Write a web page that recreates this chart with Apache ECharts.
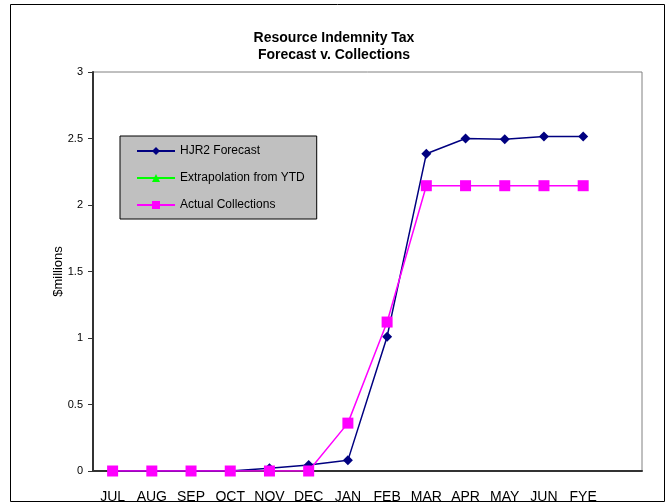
<!DOCTYPE html>
<html>
<head>
<meta charset="utf-8">
<script src="https://cdn.jsdelivr.net/npm/echarts@6/dist/echarts.min.js"></script>
<style>
  html, body { margin: 0; padding: 0; background: #fff; }
  #chart { width: 668px; height: 504px; }
</style>
</head>
<body>
<div id="chart"></div>
<script>
// fiscal-year months, last slot is an empty category
const months = ['JUL', 'AUG', 'SEP', 'OCT', 'NOV', 'DEC', 'JAN', 'FEB', 'MAR', 'APR', 'MAY', 'JUN', 'FYE', ''];
const forecast = [0, 0, 0, 0, 0.02, 0.045, 0.08, 1.01, 2.385, 2.5, 2.495, 2.515, 2.515];
const extrapolation = [];
const actual = [0, 0, 0, 0, 0, 0, 0.36, 1.12, 2.145, 2.145, 2.145, 2.145, 2.145];
const yTicks = { min: 0, max: 3, step: 0.5 };

const chart = echarts.init(document.getElementById('chart'), null, { renderer: 'canvas' });
const font = 'Liberation Sans, Arial, sans-serif';

chart.setOption({
  backgroundColor: '#fff',
  animation: false,
  title: {
    text: 'Resource Indemnity Tax\nForecast v. Collections',
    left: 'center',
    top: 25,
    textStyle: { fontFamily: font, fontSize: 14, fontWeight: 'bold', color: '#000', lineHeight: 17 },
  },
  legend: {
    orient: 'vertical',
    left: 120,
    top: 136,
    backgroundColor: '#c0c0c0',
    borderColor: '#000',
    borderWidth: 1,
    borderRadius: 0,
    padding: [9, 12, 8, 16],
    itemWidth: 38,
    itemHeight: 10,
    itemGap: 15,
    textStyle: { fontFamily: font, fontSize: 12, color: '#000' },
    data: ['HJR2 Forecast', 'Extrapolation from YTD', 'Actual Collections'],
  },
  grid: {
    left: 93, top: 72, right: 26, bottom: 32,
    show: true, borderColor: '#808080', borderWidth: 1,
  },
  xAxis: {
    type: 'category',
    data: months,
    boundaryGap: true,
    axisLine: { lineStyle: { color: '#333', width: 2 } },
    axisTick: { length: 5, lineStyle: { color: '#333' } },
    axisLabel: { fontFamily: font, fontSize: 14, color: '#000', margin: 19, interval: 0 },
    splitLine: { show: false },
  },
  yAxis: {
    type: 'value',
    min: yTicks.min,
    max: yTicks.max,
    interval: yTicks.step,
    name: '$millions',
    nameLocation: 'middle',
    nameGap: 28,
    nameMoveOverlap: false,
    nameTextStyle: { fontFamily: font, fontSize: 13, color: '#000' },
    axisLine: { show: true, lineStyle: { color: '#333', width: 2 } },
    axisTick: { show: true, length: 5, lineStyle: { color: '#333' } },
    axisLabel: { fontFamily: font, fontSize: 11, color: '#000', margin: 10 },
    splitLine: { show: false },
  },
  series: [
    {
      name: 'HJR2 Forecast',
      type: 'line',
      data: forecast,
      symbol: 'diamond',
      symbolSize: 10,
      lineStyle: { color: '#000080', width: 1.5 },
      itemStyle: { color: '#000080' },
      z: 3,
    },
    {
      name: 'Extrapolation from YTD',
      type: 'line',
      data: extrapolation,
      symbol: 'triangle',
      symbolSize: 9,
      lineStyle: { color: '#00ff00', width: 1.5 },
      itemStyle: { color: '#00ff00' },
    },
    {
      name: 'Actual Collections',
      type: 'line',
      data: actual,
      symbol: 'rect',
      symbolSize: 11,
      lineStyle: { color: '#ff00ff', width: 1.5 },
      itemStyle: { color: '#ff00ff' },
      z: 4,
    },
  ],
  graphic: [
    { type: 'rect', z: 100, shape: { x: 0, y: 502, width: 668, height: 2 }, style: { fill: '#fff' } },
    { type: 'rect', z: 101, shape: { x: 10.5, y: 4.5, width: 654, height: 497 }, style: { fill: 'none', stroke: '#000', lineWidth: 1 } },
  ],
});
</script>
</body>
</html>
